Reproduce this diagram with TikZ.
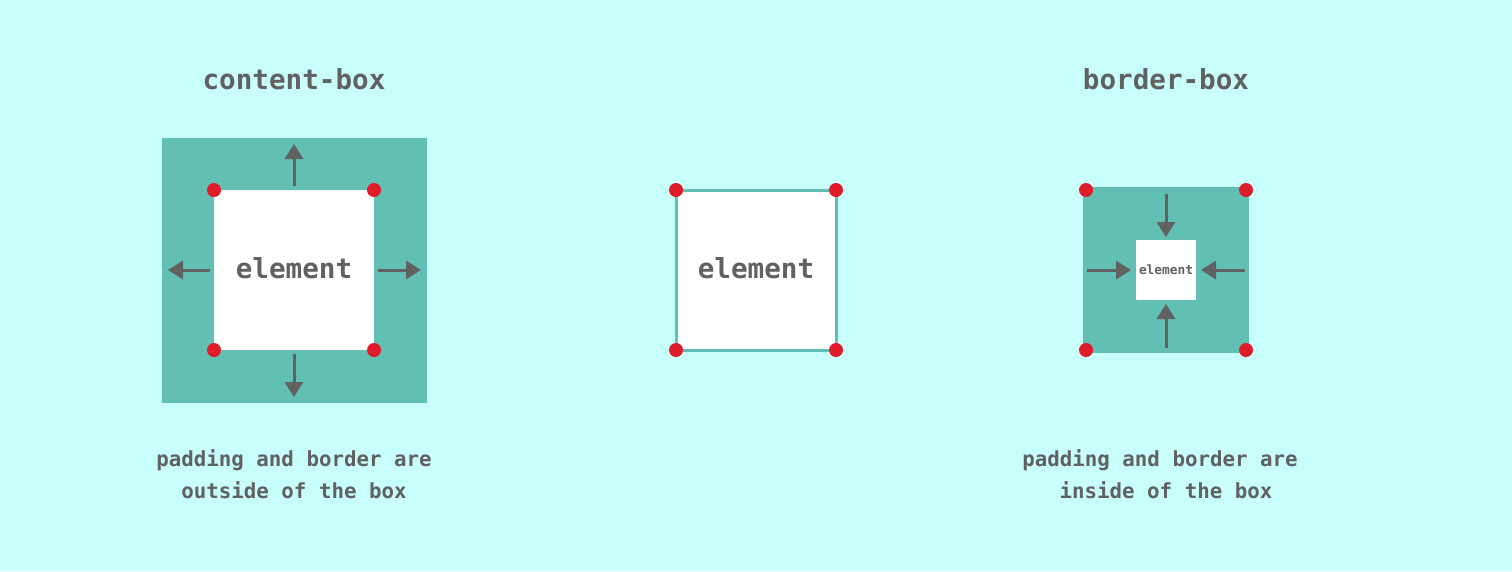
\documentclass[tikz,border=0pt]{standalone}
\usepackage{fontspec}
\setmonofont{DejaVu Sans Mono}
\usetikzlibrary{arrows.meta}
\definecolor{bg}{HTML}{C8FFFA}
\definecolor{teal}{HTML}{61BFB4}
\definecolor{txt}{HTML}{616161}
\definecolor{dotred}{HTML}{E01B2A}
\tikzset{
  lbl/.style={text=txt, font=\ttfamily\bfseries\fontsize{#1}{#1}\selectfont, inner sep=0pt, anchor=base},
  arr/.style={draw=txt, line width=3pt, -{Triangle[length=15pt,width=18pt]}},
  corner/.style={circle, fill=dotred, minimum size=14pt, inner sep=0pt},
}
\begin{document}
\begin{tikzpicture}[x=1pt,y=-1pt]
\fill[bg] (0,0) rectangle (1512,571);
\useasboundingbox (0,0) rectangle (1512,571);
% ---------- content-box ----------
\fill[teal] (162,138) rectangle (427,403);
\fill[white] (214,190) rectangle (374,350);
\node[lbl=27.6] (t1) at (294,89) {content-box};
\node[lbl=27.6] (e1) at (294,278) {element};
\coordinate (a1s) at (294,186); \coordinate (a1e) at (294,144);
\coordinate (a2s) at (294,354); \coordinate (a2e) at (294,397);
\coordinate (a3s) at (210,270); \coordinate (a3e) at (168,270);
\coordinate (a4s) at (378,270); \coordinate (a4e) at (421,270);
\draw[arr] (a1s) -- (a1e);
\draw[arr] (a2s) -- (a2e);
\draw[arr] (a3s) -- (a3e);
\draw[arr] (a4s) -- (a4e);
\node[corner] (c1) at (214,190) {};
\node[corner] (c2) at (374,190) {};
\node[corner] (c3) at (214,350) {};
\node[corner] (c4) at (374,350) {};
\node[lbl=20.8] (b1) at (294,466) {padding and border are};
\node[lbl=20.8] (b2) at (294,498) {outside of the box};
% ---------- middle ----------
\draw[teal, line width=3pt, fill=white] (676,190) rectangle (836,350);
\node[lbl=27.6] (e2) at (756,278) {element};
\node[corner] (m1) at (676,190) {};
\node[corner] (m2) at (836,190) {};
\node[corner] (m3) at (676,350) {};
\node[corner] (m4) at (836,350) {};
% ---------- border-box ----------
\fill[teal] (1083,187) rectangle (1249,353);
\fill[white] (1136,240) rectangle (1196,300);
\node[lbl=27.6] (t3) at (1166,89) {border-box};
\node[lbl=12.8] (e3) at (1166,274) {element};
\coordinate (d1s) at (1166,194); \coordinate (d1e) at (1166,237);
\coordinate (d2s) at (1166,348); \coordinate (d2e) at (1166,304);
\coordinate (d3s) at (1087,270); \coordinate (d3e) at (1131,270);
\coordinate (d4s) at (1245,270); \coordinate (d4e) at (1201,270);
\draw[arr] (d1s) -- (d1e);
\draw[arr] (d2s) -- (d2e);
\draw[arr] (d3s) -- (d3e);
\draw[arr] (d4s) -- (d4e);
\node[corner] (n1) at (1086,190) {};
\node[corner] (n2) at (1246,190) {};
\node[corner] (n3) at (1086,350) {};
\node[corner] (n4) at (1246,350) {};
\node[lbl=20.8] (b3) at (1160,466) {padding and border are};
\node[lbl=20.8] (b4) at (1166,498) {inside of the box};
\end{tikzpicture}
\end{document}
